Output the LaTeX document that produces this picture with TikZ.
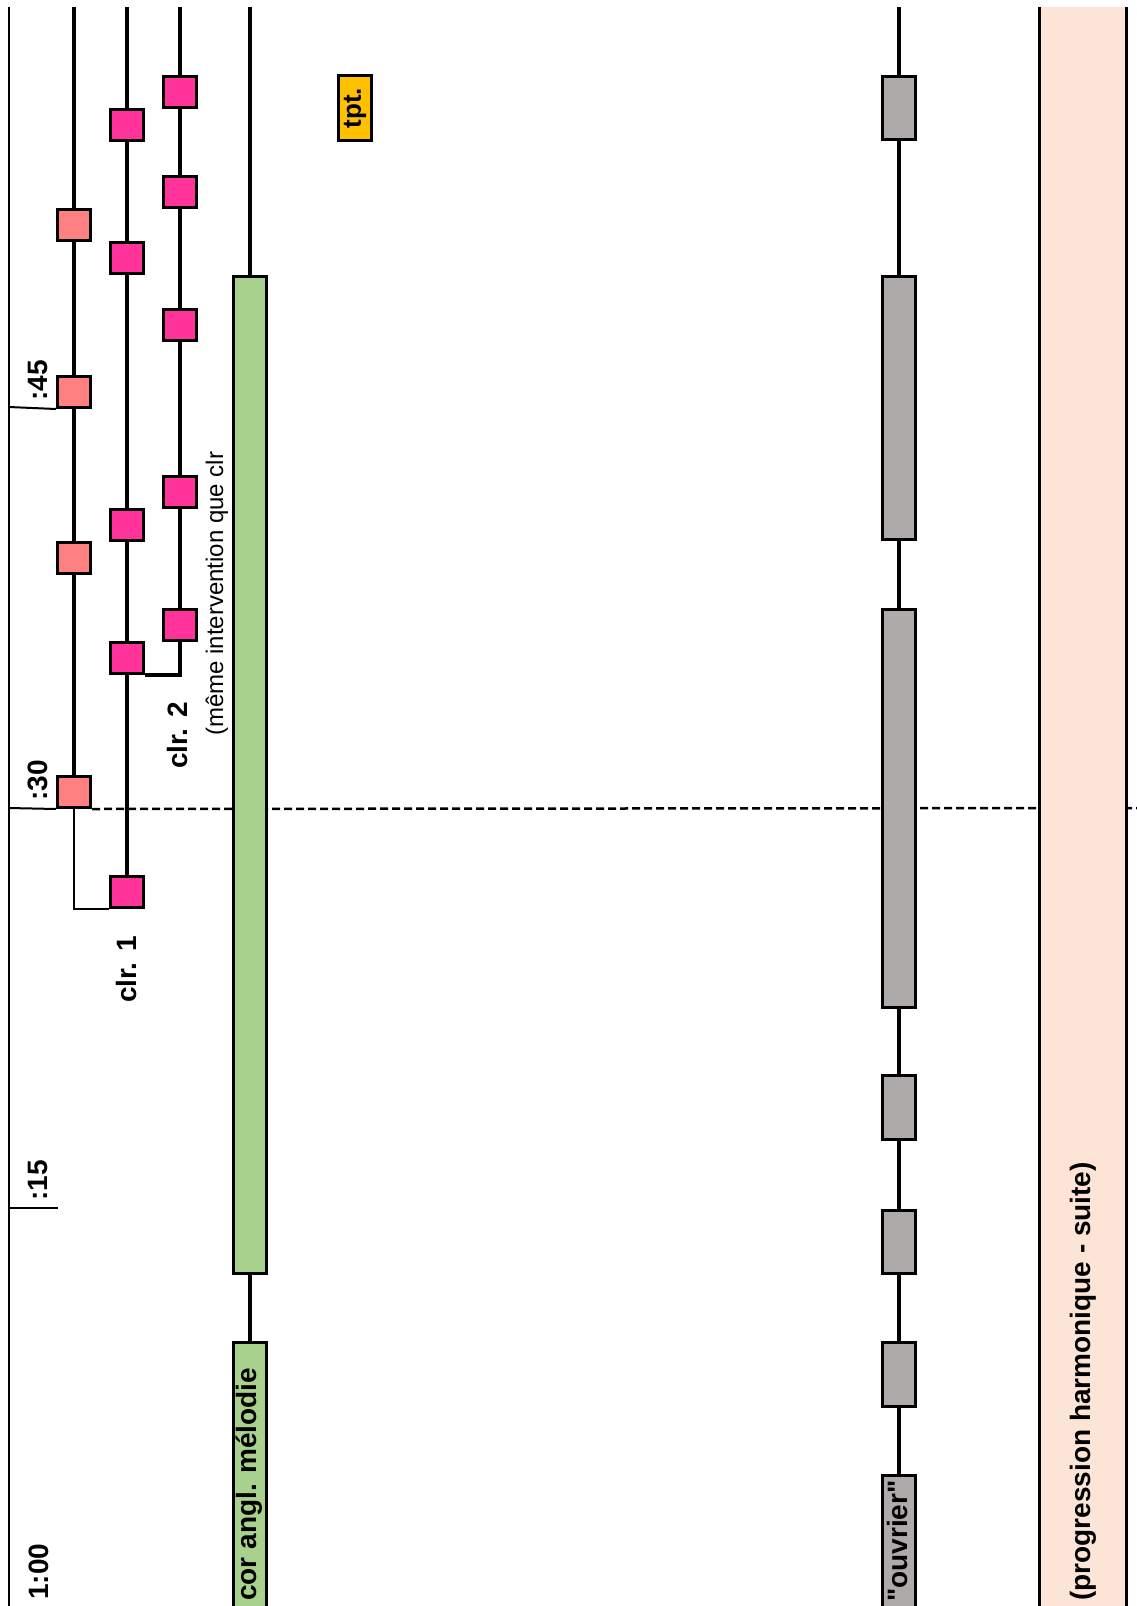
\documentclass[tikz,border=0pt]{standalone}
\usepackage{fontspec}
\setmainfont{Liberation Sans}[Ligatures=TeXOff]
\usepackage{tikz}
\usetikzlibrary{positioning}

\definecolor{salmon}{HTML}{FF8080}
\definecolor{clrpink}{HTML}{FF3399}
\definecolor{corgreen}{HTML}{A9D18E}
\definecolor{ouvgrey}{HTML}{AEAAAA}
\definecolor{tptyellow}{HTML}{FFC000}
\definecolor{harmpeach}{HTML}{FCE4D6}

\begin{document}
\begin{tikzpicture}[x=1pt, y=-1pt,
    sq/.style={rectangle, draw, line width=3pt, minimum width=33pt, minimum height=31pt, inner sep=0pt},
    bar/.style={rectangle, draw, line width=3pt, minimum width=33pt, inner sep=0pt},
    voice/.style={line width=4.5pt},
    link/.style={line width=2pt},
    lbl/.style={rotate=90, anchor=west, inner sep=0pt, font=\fontsize{28}{30}\selectfont\bfseries},
    note/.style={rotate=90, anchor=west, inner sep=0pt, font=\fontsize{24}{26}\selectfont}
]
\useasboundingbox (0,0) rectangle (1137,1606);
\clip (0,0) rectangle (1137,1606);

% time axis
\coordinate (axTop) at (9,7);
\coordinate (axBot) at (9,1606);
\coordinate (t45) at (9,407);
\coordinate (t30) at (9,808);
\coordinate (t15) at (9,1208);
\coordinate (t15e) at (58,1208);
\coordinate (dashEnd) at (1137,808);
\draw[link] (axTop) -- (axBot);
\draw[link] (t15) -- (t15e);

% salmon voice
\node[sq, fill=salmon] (sal1) at (74,225) {};
\node[sq, fill=salmon] (sal2) at (74,392) {};
\node[sq, fill=salmon] (sal3) at (74,558) {};
\node[sq, fill=salmon] (sal4) at (74,792) {};
% clr. 1
\node[sq, fill=clrpink] (c1a) at (127,125) {};
\node[sq, fill=clrpink] (c1b) at (127,258) {};
\node[sq, fill=clrpink] (c1c) at (127,525) {};
\node[sq, fill=clrpink] (c1d) at (127,658) {};
\node[sq, fill=clrpink] (c1e) at (127,892) {};
% clr. 2
\node[sq, fill=clrpink] (c2a) at (180,92) {};
\node[sq, fill=clrpink] (c2b) at (180,192) {};
\node[sq, fill=clrpink] (c2c) at (180,325) {};
\node[sq, fill=clrpink] (c2d) at (180,492) {};
\node[sq, fill=clrpink] (c2e) at (180,625) {};

\draw[link] (t45) -- (sal2.south west);
\draw[link] (t30) -- (sal4.south west);
\draw[link, line width=2.5pt, dash pattern=on 8pt off 4pt] (sal4.south east) -- (dashEnd);

% cor anglais
\node[bar, fill=corgreen, minimum height=997pt] (cor1) at (250,775) {};
\node[bar, fill=corgreen, minimum height=306pt] (cor2) at (250,1495.5) {};

% "ouvrier"
\node[bar, fill=ouvgrey, minimum height=63.5pt] (ouv1) at (899,108) {};
\node[bar, fill=ouvgrey, minimum height=263pt] (ouv2) at (899,408) {};
\node[bar, fill=ouvgrey, minimum height=398pt] (ouv3) at (899,808.5) {};
\node[bar, fill=ouvgrey, minimum height=63.5pt] (ouv4) at (899,1107.5) {};
\node[bar, fill=ouvgrey, minimum height=63.5pt] (ouv5) at (899,1242) {};
\node[bar, fill=ouvgrey, minimum height=63.5pt] (ouv6) at (899,1374.5) {};
\node[bar, fill=ouvgrey, minimum height=173pt] (ouv7) at (899,1562) {};

% harmonic band
\node[fill=harmpeach, minimum width=87pt, minimum height=1640pt, inner sep=0pt] (harm) at (1083,827) {};
\draw[line width=3pt] (harm.north west) -- (harm.south west);
\draw[line width=3pt] (harm.north east) -- (harm.south east);

% tpt.
\node[sq, fill=tptyellow, rotate=90, minimum width=65pt, minimum height=33pt,
      font=\fontsize{26}{28}\selectfont\bfseries] (tpt) at (355,108) {tpt.};

% voice lines
\coordinate (salTop) at (74,7);
\coordinate (c1Top) at (127,7);
\coordinate (c2Top) at (180,7);
\coordinate (corTop) at (250,7);
\coordinate (ouvTop) at (899,7);
\draw[voice] (salTop) -- (sal1) -- (sal2) -- (sal3) -- (sal4);
\draw[link] (sal4) |- (c1e.south west);
\draw[voice] (c1Top) -- (c1a) -- (c1b) -- (c1c) -- (c1d) -- (c1e);
\draw[voice] (c2Top) -- (c2a) -- (c2b) -- (c2c) -- (c2d) -- (c2e);
\draw[voice] (c2e) |- (c1d.south east);
\draw[voice] (corTop) -- (cor1) -- (cor2);
\draw[voice] (ouvTop) -- (ouv1) -- (ouv2) -- (ouv3) -- (ouv4) -- (ouv5) -- (ouv6) -- (ouv7);

% labels
\node[lbl] (l100) at (39,1600) {1:00};
\node[lbl] (l15) at (38,1201) {:15};
\node[lbl] (l30) at (38,801) {:30};
\node[lbl] (l45) at (38,401) {:45};
\node[lbl] (clr1) at (126,1003) {clr. 1};
\node[lbl] (clr2) at (177,769) {clr. 2};
\node[note] (same) at (217,736) {(même intervention que clr};
\node[lbl] (corlbl) at (249,1601) {cor angl. mélodie};
\node[lbl] (ouvlbl) at (897,1602) {"ouvrier"};
\node[lbl] (harmlbl) at (1083,1601) {(progression harmonique - suite)};
\end{tikzpicture}
\end{document}
